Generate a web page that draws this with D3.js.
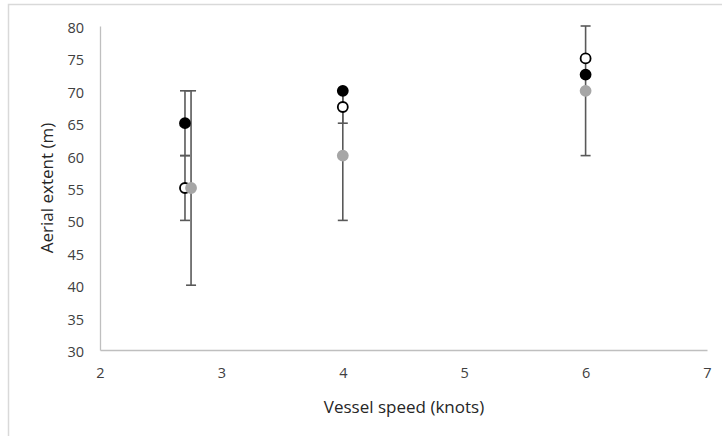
<!DOCTYPE html>
<html>
<head>
<meta charset="utf-8">
<script src="https://cdn.jsdelivr.net/npm/d3@7"></script>
<style>
  html, body { margin: 0; padding: 0; background: #fff; }
  svg { display: block; }
  text { font-family: "Open Sans", "Noto Sans", sans-serif; }
</style>
</head>
<body>
<svg id="chart" width="722" height="436"></svg>
<script>
// Vessel speed (knots) for each measurement group
const speedA = [2.7, 4, 6];       // filled black
const speedB = [2.7, 4, 6];       // open circle
const speedC = [2.75, 4, 6];      // grey

// Aerial extent (m)
const extentA = [65, 70, 72.5];
const extentB = [55, 67.5, 75];
const extentC = [55, 60, 70];

// Error amounts (m), null where no bar is drawn
const errA = [5, null, null];
const errB = [5, 2.5, null];
const errC = [15, 10, 10];

const xTicks = [2, 3, 4, 5, 6, 7];
const yTicks = [30, 35, 40, 45, 50, 55, 60, 65, 70, 75, 80];

const svg = d3.select("#chart");

// outer frame
svg.append("rect")
  .attr("x", 8.5).attr("y", 4.5)
  .attr("width", 722).attr("height", 440)
  .attr("fill", "none").attr("stroke", "#d9d9d9").attr("stroke-width", 1.5);

const x = d3.scaleLinear().domain([2, 7]).range([100, 707]);
const y = d3.scaleLinear().domain([30, 80]).range([350, 26]);

// axes
const xAxis = svg.append("g")
  .attr("transform", `translate(0,${y(30)})`)
  .call(d3.axisBottom(x).tickValues(xTicks).tickSize(0).tickPadding(18).tickFormat(d3.format("d")));
const yAxis = svg.append("g")
  .attr("transform", `translate(${x(2)},0)`)
  .call(d3.axisLeft(y).tickValues(yTicks).tickSize(0).tickPadding(16).tickFormat(d3.format("d")));

[xAxis, yAxis].forEach(g => {
  g.select(".domain").attr("stroke", "#bfbfbf").attr("stroke-width", 1.3);
  g.selectAll("text").attr("fill", "#404040").attr("font-size", 14.5)
    .attr("font-family", "'Open Sans', sans-serif");
});
yAxis.selectAll(".tick text").attr("dy", "0.45em");

// axis titles
svg.append("text")
  .attr("x", 404).attr("y", 413)
  .attr("text-anchor", "middle").attr("font-size", 17).attr("fill", "#262626")
  .text("Vessel speed (knots)");
svg.append("text")
  .attr("transform", `translate(53,${(y(30) + y(80)) / 2}) rotate(-90)`)
  .attr("text-anchor", "middle").attr("font-size", 17).attr("fill", "#262626")
  .text("Aerial extent (m)");

const series = [
  { xs: speedA, ys: extentA, err: errA, fill: "#000", stroke: "#000" },
  { xs: speedB, ys: extentB, err: errB, fill: "#fff", stroke: "#000" },
  { xs: speedC, ys: extentC, err: errC, fill: "#a6a6a6", stroke: "#a6a6a6" }
];

// error bars first, markers on top
const capHalf = 5;
const errG = svg.append("g").attr("stroke", "#595959").attr("stroke-width", 1.6);
series.forEach(s => {
  s.xs.forEach((sx, i) => {
    const e = s.err[i];
    if (e == null) return;
    const cx = x(sx);
    const lo = y(s.ys[i] - e), hi = y(s.ys[i] + e);
    errG.append("line").attr("x1", cx).attr("x2", cx).attr("y1", lo).attr("y2", hi);
    errG.append("line").attr("x1", cx - capHalf).attr("x2", cx + capHalf).attr("y1", lo).attr("y2", lo);
    errG.append("line").attr("x1", cx - capHalf).attr("x2", cx + capHalf).attr("y1", hi).attr("y2", hi);
  });
});

series.forEach(s => {
  svg.append("g").selectAll("circle")
    .data(s.xs.map((sx, i) => [sx, s.ys[i]]))
    .join("circle")
    .attr("cx", d => x(d[0])).attr("cy", d => y(d[1]))
    .attr("r", 5)
    .attr("fill", s.fill)
    .attr("stroke", s.stroke).attr("stroke-width", 1.8);
});
</script>
</body>
</html>
